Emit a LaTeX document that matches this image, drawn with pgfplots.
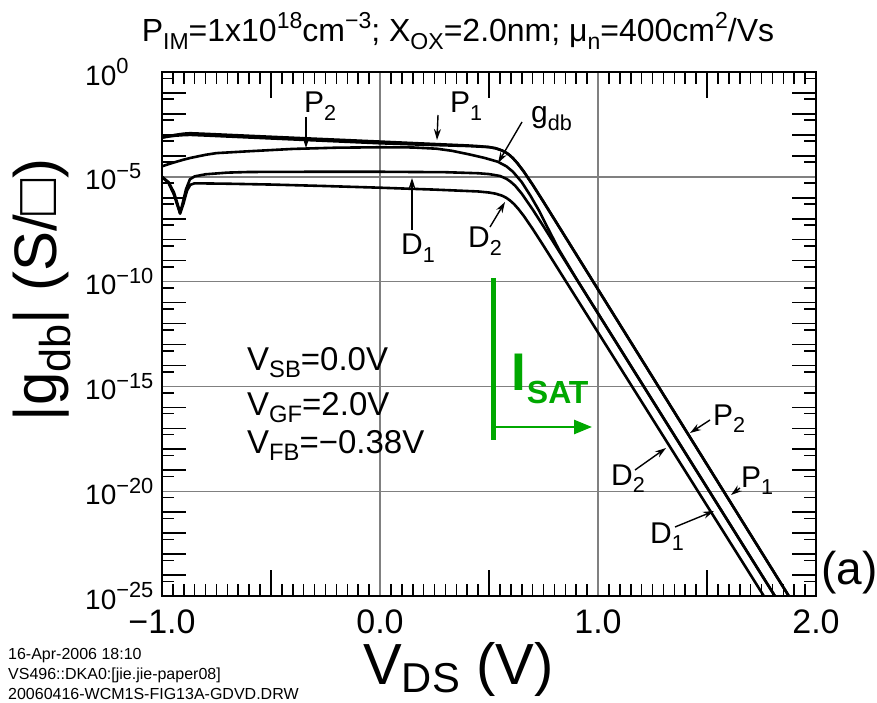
\documentclass[border=0pt]{standalone}
\usepackage{fontspec}
\setmainfont{Liberation Sans}
\usepackage{graphicx}
\usepackage{pgfplots}
\pgfplotsset{compat=1.18}
\usetikzlibrary{arrows.meta}

\definecolor{satgreen}{RGB}{0,168,0}
\definecolor{gridgray}{RGB}{128,128,128}

\newcommand{\fs}[1]{\fontsize{#1}{#1}\selectfont}
\newcommand{\sbs}[1]{\raisebox{-0.24em}{\scalebox{0.72}{#1}}}
\newcommand{\sps}[1]{\raisebox{0.42em}{\scalebox{0.72}{#1}}}
\newcommand{\dec}[1]{10\raisebox{0.40em}{\scalebox{0.78}{#1}}}

\begin{document}
\begin{tikzpicture}
\path[use as bounding box] (-162pt,-106pt) rectangle (715pt,596pt);
\begin{axis}[
  at={(0pt,0pt)}, anchor=south west,
  scale only axis, width=654pt, height=524pt,
  xmin=-1, xmax=2,
  ymode=log, ymin=1e-25, ymax=1,
  axis line style={line width=2.6pt},
  tick align=inside,
  tick style={black, line width=1.6pt},
  major tick length=0pt,
  minor tick length=12pt,
  xtick={-1,0,1,2},
  xticklabels={−1.0,0.0,1.0,2.0},
  minor x tick num=19,
  extra x ticks={-0.5,0.5,1.5},
  extra x tick labels={},
  extra x tick style={major tick length=26pt, grid=none},
  ytick={1e-25,1e-20,1e-15,1e-10,1e-5,1},
  yticklabels={\dec{−25},\dec{−20},\dec{−15},\dec{−10},\dec{−5},\dec{0}},
  minor ytick={5e-25,5e-24,5e-23,5e-22,5e-21,5e-20,5e-19,5e-18,5e-17,5e-16,5e-15,5e-14,5e-13,5e-12,5e-11,5e-10,5e-9,5e-8,5e-7,5e-6,5e-5,5e-4,5e-3,5e-2,5e-1},
  extra y ticks={1e-24,1e-23,1e-22,1e-21,1e-19,1e-18,1e-17,1e-16,1e-14,1e-13,1e-12,1e-11,1e-9,1e-8,1e-7,1e-6,1e-4,1e-3,1e-2,1e-1},
  extra y tick labels={},
  extra y tick style={major tick length=24pt, grid=none},
  grid=major,
  major grid style={gridgray, line width=1.4pt},
  xticklabel style={font=\fs{34}, inner sep=0pt, yshift=-14pt},
  yticklabel style={font=\fs{28}, inner sep=0pt, anchor=west, xshift=-77pt},
  xlabel={V\raisebox{-0.15em}{\scalebox{0.72}{DS}} (V)},
  ylabel={|g\sbs{db}| (S/□)},
  every axis x label/.style={at={(axis description cs:0.453,0)}, anchor=base, yshift=-88pt, font=\fs{58}},
  every axis y label/.style={at={(axis description cs:-0.1835,0.584)}, anchor=center, rotate=90, font=\fs{60}},
  crv/.style={black, line width=2.6pt, no markers, line join=round},
]
% P1
\addplot[crv] coordinates {(-1.0,7.41e-4) (-0.97,8.71e-4) (-0.94,1.0e-3) (-0.9,1.148e-3) (-0.87,1.202e-3) (-0.8,1.122e-3) (-0.6,9.04e-4) (-0.4,7.31e-4) (-0.2,5.92e-4) (0.0,4.79e-4) (0.2,3.87e-4) (0.4,3.13e-4) (0.45,2.92e-4) (0.5,2.62e-4) (0.53,2.30e-4) (0.56,1.80e-4) (0.58,1.39e-4) (0.595,1.07e-4) (0.61,7.69e-5) (0.63,4.51e-5) (0.66,1.75e-5) (0.7,4.22e-6) (0.75,6.41e-7) (1.905,3.17e-26)};
% P2
\addplot[crv] coordinates {(-1.0,7.41e-4) (-0.97,8.32e-4) (-0.94,9.12e-4) (-0.9,9.77e-4) (-0.87,1.0e-3) (-0.8,9.33e-4) (-0.6,7.52e-4) (-0.4,6.08e-4) (-0.2,4.92e-4) (0.0,3.98e-4) (0.2,3.39e-4) (0.4,2.95e-4) (0.5,2.62e-4) (0.53,2.30e-4) (0.56,1.80e-4) (0.58,1.39e-4) (0.595,1.07e-4) (0.61,7.69e-5) (0.63,4.51e-5) (0.66,1.75e-5) (0.7,4.22e-6) (0.75,6.41e-7) (1.905,3.17e-26)};
% g_db
\addplot[crv] coordinates {(-1.0,3.16e-5) (-0.95,4.68e-5) (-0.9,6.61e-5) (-0.87,7.94e-5) (-0.8,1.122e-4) (-0.75,1.35e-4) (-0.6,1.66e-4) (-0.4,2.14e-4) (-0.2,2.45e-4) (0.0,2.57e-4) (0.15,2.51e-4) (0.26,2.19e-4) (0.33,1.74e-4) (0.41,1.17e-4) (0.48,7.94e-5) (0.54,5.25e-5) (0.58,3.16e-5) (0.61,1.74e-5) (0.65,5.62e-6) (0.69,1.26e-6) (0.73,2.40e-7) (0.77,3.55e-8) (0.82,3.47e-9) (0.9,1.41e-10) (1.8414,3.16e-26)};
% D1
\addplot[crv] coordinates {(-1.0,1.0e-5) (-0.97,5.62e-6) (-0.945,1.78e-6) (-0.93,5.62e-7) (-0.917,1.91e-7) (-0.905,5.62e-7) (-0.89,2.51e-6) (-0.872,7.59e-6) (-0.85,1.05e-5) (-0.8,1.32e-5) (-0.7,1.585e-5) (-0.6,1.70e-5) (-0.3,1.74e-5) (0.0,1.74e-5) (0.3,1.66e-5) (0.45,1.48e-5) (0.5,1.35e-5) (0.55,1.10e-5) (0.58,8.04e-6) (0.6,5.75e-6) (0.62,3.76e-6) (0.65,1.585e-6) (0.7,2.79e-7) (0.75,4.32e-8) (1.8414,3.16e-26)};
% D2
\addplot[crv] coordinates {(-1.0,1.0e-5) (-0.97,5.01e-6) (-0.945,1.41e-6) (-0.93,4.47e-7) (-0.917,1.74e-7) (-0.902,5.01e-7) (-0.885,2.24e-6) (-0.87,4.17e-6) (-0.85,4.90e-6) (-0.7,4.68e-6) (-0.5,4.27e-6) (-0.25,3.63e-6) (0.0,3.02e-6) (0.25,2.45e-6) (0.45,2.0e-6) (0.5,1.78e-6) (0.53,1.57e-6) (0.56,1.26e-6) (0.58,9.84e-7) (0.597,7.33e-7) (0.615,4.98e-7) (0.635,2.90e-7) (0.66,1.34e-7) (0.7,3.30e-8) (0.75,5.14e-9) (1.791,3.16e-26)};
\end{axis}

% heading
\node[anchor=base, font=\fs{32}] at (296pt,554pt)
  {P\sbs{IM}=1x10\sps{18}cm\sps{−3}; X\sbs{OX}=2.0nm; μ\sbs{n}=400cm\sps{2}/Vs};

% curve labels with pointers
\tikzset{lbl/.style={anchor=base west, inner sep=0pt, font=\fs{30}},
         ptr/.style={-{Stealth[length=11pt,width=7pt]}, line width=1.4pt, black}}
\node[lbl] at (142pt,483pt) {P\sbs{2}};
\draw[ptr] (144pt,479pt) -- (144pt,448pt);
\node[lbl] at (288pt,483pt) {P\sbs{1}};
\draw[ptr] (276pt,481pt) -- (275pt,456pt);
\node[lbl] at (369pt,473pt) {g\sbs{db}};
\draw[ptr] (360pt,474pt) -- (336pt,433pt);
\node[lbl] at (239pt,341pt) {D\sbs{1}};
\draw[ptr] (250pt,366pt) -- (250pt,418pt);
\node[lbl] at (306pt,348pt) {D\sbs{2}};
\draw[ptr] (328pt,369pt) -- (343pt,394pt);
\node[lbl] at (551pt,171pt) {P\sbs{2}};
\draw[ptr] (548pt,176pt) -- (528pt,163pt);
\node[lbl] at (579pt,109pt) {P\sbs{1}};
\draw[ptr] (578pt,108pt) -- (569pt,101pt);
\node[lbl] at (449pt,111pt) {D\sbs{2}};
\draw[ptr] (473pt,126pt) -- (504pt,148pt);
\node[lbl] at (488pt,53pt) {D\sbs{1}};
\draw[ptr] (513pt,69pt) -- (552pt,85pt);

% bias conditions
\node[anchor=base west, inner sep=0pt, font=\fs{33}] at (85pt,226pt) {V\sbs{SB}=0.0V};
\node[anchor=base west, inner sep=0pt, font=\fs{33}] at (85pt,181pt) {V\sbs{GF}=2.0V};
\node[anchor=base west, inner sep=0pt, font=\fs{33}] at (85pt,143pt) {V\sbs{FB}=−0.38V};

% saturation marker
\draw[satgreen, line width=5pt] (331pt,318pt) -- (331pt,156pt);
\draw[satgreen, line width=2.6pt, -{Triangle[length=18pt,width=14pt]}] (331pt,169pt) -- (430pt,169pt);
\node[anchor=base west, inner sep=0pt, text=satgreen, font=\fs{53}\bfseries] at (349.6pt,206pt) {I};
\node[anchor=base west, inner sep=0pt, text=satgreen, font=\fs{32}\bfseries] at (364.7pt,193pt) {SAT};

% panel tag
\node[anchor=base west, inner sep=0pt, font=\fs{46}] at (659pt,12pt) {(a)};

% file stamp
\node[anchor=base west, inner sep=0pt, font=\fs{16}] at (-154pt,-63pt) {16-Apr-2006 18:10};
\node[anchor=base west, inner sep=0pt, font=\fs{16}] at (-154pt,-83pt) {VS496::DKA0:[jie.jie-paper08]};
\node[anchor=base west, inner sep=0pt, font=\fs{16}] at (-154pt,-103pt) {20060416-WCM1S-FIG13A-GDVD.DRW};
\end{tikzpicture}
\end{document}
